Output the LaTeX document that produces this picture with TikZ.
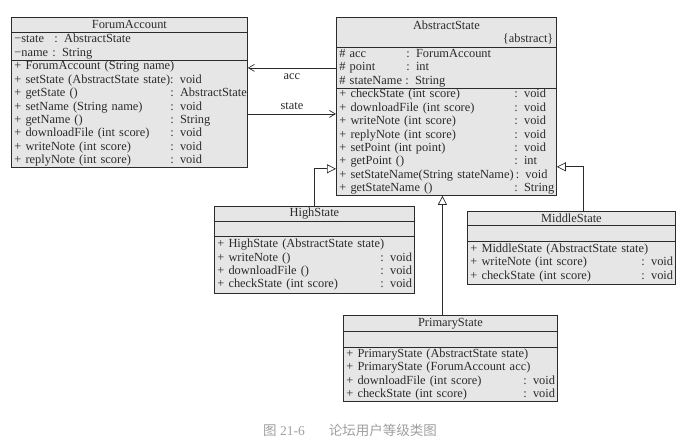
\documentclass[tikz,border=0pt]{standalone}
\usepackage{fontspec}
\setmainfont{Liberation Serif}
\newfontfamily\cjk{Noto Sans CJK SC}
\usetikzlibrary{arrows.meta}

\definecolor{boxfill}{HTML}{E6E6E6}
\definecolor{ink}{HTML}{2B2B2B}
\newcommand{\mrow}[3]{\mbox{\makebox[#1][l]{#2}: #3}}
\hfuzz=20pt

\begin{document}
\begin{tikzpicture}[x=1pt, y=-1pt,
    cls/.style={draw=ink, line width=0.8pt, fill=boxfill, text=ink, anchor=north west,
        inner xsep=3pt, inner ysep=0pt, align=left, font=\fontsize{12.4}{13.4}\selectfont},
    title/.style={cls, align=center},
    assoc/.style={draw=ink, line width=0.7pt, -{Straight Barb[length=6pt, width=7pt]}},
    inherit/.style={draw=ink, line width=0.7pt, -{Triangle[open, length=9pt, width=9pt, fill=white]}}]
    \useasboundingbox (0, 0) rectangle (688, 444);

    \node at (11, 17) [title, text width=230pt, minimum height=15pt] (fa) {ForumAccount};
    \node at (11, 32) [cls, text width=230pt, minimum height=28pt] (faa) {\mrow{40pt}{−state}{AbstractState}\\\mrow{38pt}{−name}{String}};
    \node at (11, 60) [cls, text width=230pt, minimum height=107pt] (fam) {\mbox{+ ForumAccount (String name)}\\
        \mbox{+ setState (AbstractState state): void}\\
        \mrow{156pt}{+ getState ()}{AbstractState}\\
        \mrow{156pt}{+ setName (String name)}{void}\\
        \mrow{156pt}{+ getName ()}{String}\\
        \mrow{156pt}{+ downloadFile (int score)}{void}\\
        \mrow{156pt}{+ writeNote (int score)}{void}\\
        \mrow{156pt}{+ replyNote (int score)}{void}};

    \node at (336, 17) [title, text width=214pt, minimum height=30pt] (as) {AbstractState\\\mbox{}\hfill\{abstract\}};
    \node at (336, 47) [cls, text width=214pt, minimum height=41pt] (asa) {\mrow{67pt}{\# acc}{ForumAccount}\\
        \mrow{67pt}{\# point}{int}\\
        \mrow{66pt}{\# stateName}{String}};
    \node at (336, 88) [cls, text width=214pt, minimum height=107pt] (asm) {\mrow{175pt}{+ checkState (int score)}{void}\\
        \mrow{175pt}{+ downloadFile (int score)}{void}\\
        \mrow{175pt}{+ writeNote (int score)}{void}\\
        \mrow{175pt}{+ replyNote (int score)}{void}\\
        \mrow{175pt}{+ setPoint (int point)}{void}\\
        \mrow{175pt}{+ getPoint ()}{int}\\
        \mbox{+ setStateName(String stateName)\,: void}\\
        \mrow{175pt}{+ getStateName ()}{String}};

    \node at (214, 206) [title, text width=194pt, minimum height=15pt] (hs) {HighState};
    \node at (214, 221) [cls, text width=194pt, minimum height=15pt] (hsa) {};
    \node at (214, 236) [cls, text width=194pt, minimum height=57pt] (hsm) {\mbox{+ HighState (AbstractState state)}\\
        \mrow{163pt}{+ writeNote ()}{void}\\
        \mrow{163pt}{+ downloadFile ()}{void}\\
        \mrow{163pt}{+ checkState (int score)}{void}};

    \node at (467, 211) [title, text width=202pt, minimum height=14pt] (ms) {MiddleState};
    \node at (467, 225) [cls, text width=202pt, minimum height=16pt] (msa) {};
    \node at (467, 241) [cls, text width=202pt, minimum height=43pt] (msm) {\mbox{+ MiddleState (AbstractState state)}\\
        \mrow{171pt}{+ writeNote (int score)}{void}\\
        \mrow{171pt}{+ checkState (int score)}{void}};

    \node at (343, 315) [title, text width=208pt, minimum height=16pt] (ps) {PrimaryState};
    \node at (343, 331) [cls, text width=208pt, minimum height=16pt] (psa) {};
    \node at (343, 347) [cls, text width=208pt, minimum height=54pt] (psm) {\mbox{+ PrimaryState (AbstractState state)}\\
        \mbox{+ PrimaryState (ForumAccount acc)}\\
        \mrow{177pt}{+ downloadFile (int score)}{void}\\
        \mrow{177pt}{+ checkState (int score)}{void}};

    \draw[assoc] (asa.west) -- (asa.west -| fam.east) node[midway, below=2pt, text=ink, font=\fontsize{12.4}{13.4}\selectfont] {acc};
    \draw[assoc] (fam.east) -- (fam.east -| asm.west) node[midway, above=1pt, text=ink, font=\fontsize{12.4}{13.4}\selectfont] {state};

    \draw[inherit] (hs.north) |- ([yshift=27pt]asm.south west);
    \draw[inherit] ([xshift=12pt]ms.north) |- ([yshift=29pt]asm.south east);
    \draw[inherit] ([xshift=-8pt]ps.north) -- ([xshift=-8pt]ps.north |- asm.south);

    \node at (350, 430) [text=gray!75, font=\fontsize{13.5}{15}\selectfont] (cap) {{\cjk 图}\ 21-6\hspace{24pt}{\cjk 论坛用户等级类图}};
\end{tikzpicture}
\end{document}
